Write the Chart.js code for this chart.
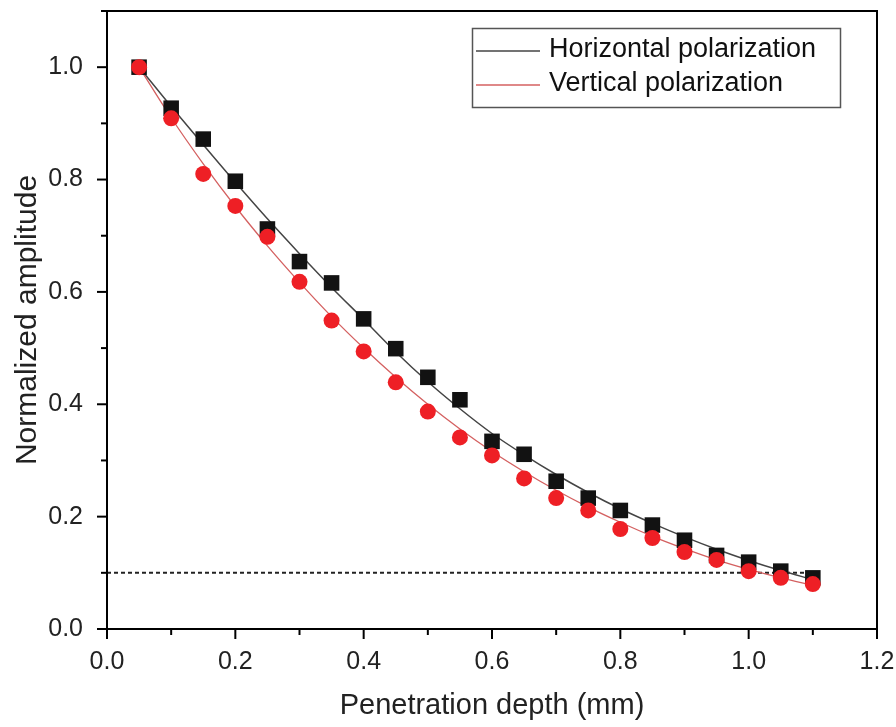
<!DOCTYPE html>
<html>
<head>
<meta charset="utf-8">
<script src="https://cdn.jsdelivr.net/npm/chart.js@4.4.1/dist/chart.umd.min.js"></script>
<style>
  html, body { margin: 0; padding: 0; background: #ffffff; }
  #wrap { width: 896px; height: 727px; }
</style>
</head>
<body>
<div id="wrap"><canvas id="c" width="896" height="727"></canvas></div>
<script>
// ---- data ----
const depth = [0.05,0.10,0.15,0.20,0.25,0.30,0.35,0.40,0.45,0.50,0.55,0.60,0.65,0.70,0.75,0.80,0.85,0.90,0.95,1.00,1.05,1.10];
const horizontalMeasured = [1.000,0.927,0.872,0.797,0.712,0.654,0.616,0.552,0.499,0.448,0.408,0.334,0.311,0.263,0.233,0.211,0.185,0.158,0.131,0.119,0.103,0.091];
const verticalMeasured   = [1.000,0.909,0.810,0.753,0.698,0.618,0.549,0.494,0.439,0.387,0.341,0.309,0.268,0.233,0.211,0.178,0.162,0.137,0.123,0.103,0.091,0.080];
const horizontalFit = [1.000,0.930,0.862,0.795,0.730,0.668,0.608,0.551,0.493,0.440,0.392,0.348,0.310,0.275,0.243,0.214,0.188,0.164,0.142,0.122,0.104,0.088];
const verticalFit   = [1.000,0.910,0.828,0.752,0.682,0.617,0.556,0.500,0.448,0.400,0.356,0.316,0.280,0.247,0.217,0.190,0.165,0.143,0.123,0.106,0.091,0.078];
const thresholdX = [0.0, 1.1];
const thresholdY = [0.1, 0.1];
const xTickLabels = ['0.0','0.2','0.4','0.6','0.8','1.0','1.2'];
const yTickLabels = ['0.0','0.2','0.4','0.6','0.8','1.0'];
const seriesNames = ['Horizontal polarization', 'Vertical polarization'];

const pts = (xs, ys) => xs.map((x, i) => ({x: x, y: ys[i]}));

const BLACK = '#121212';
const RED = '#ee1f25';
const BLACK_LINE = '#444444';
const RED_LINE = '#d46060';
const FONT = "'Liberation Sans', Arial, sans-serif";

const frameAndTicks = {
  id: 'frameAndTicks',
  afterDatasetsDraw(chart) {
    const ctx = chart.ctx;
    const a = chart.chartArea;
    ctx.save();
    ctx.strokeStyle = '#000';
    ctx.lineWidth = 2;
    ctx.strokeRect(a.left, a.top, a.right - a.left, a.bottom - a.top);
    const xs = chart.scales.x, ys = chart.scales.y;
    ctx.lineWidth = 2;
    xs.ticks.forEach((t) => {
      const px = xs.getPixelForValue(t.value);
      const major = Math.round(t.value * 10) % 2 === 0;
      const len = major ? 10 : 6;
      ctx.beginPath(); ctx.moveTo(px, a.bottom); ctx.lineTo(px, a.bottom + len); ctx.stroke();
    });
    ys.ticks.forEach((t) => {
      const py = ys.getPixelForValue(t.value);
      const major = Math.round(t.value * 10) % 2 === 0;
      const len = major ? 10 : 6;
      ctx.beginPath(); ctx.moveTo(a.left, py); ctx.lineTo(a.left - len, py); ctx.stroke();
    });
    ctx.restore();
  }
};

const boxLegend = {
  id: 'boxLegend',
  afterDraw(chart) {
    const ctx = chart.ctx;
    ctx.save();
    ctx.fillStyle = '#fff';
    ctx.fillRect(472, 28, 368, 79);
    ctx.strokeStyle = '#555';
    ctx.lineWidth = 1.5;
    ctx.strokeRect(472.5, 28.5, 368, 79);
    const rows = [{y: 51, c: BLACK_LINE, t: seriesNames[0]}, {y: 85, c: RED_LINE, t: seriesNames[1]}];
    rows.forEach(r => {
      ctx.strokeStyle = r.c; ctx.lineWidth = 1.3;
      ctx.beginPath(); ctx.moveTo(476, r.y); ctx.lineTo(540, r.y); ctx.stroke();
      ctx.fillStyle = '#111';
      ctx.font = "27px " + FONT;
      ctx.textBaseline = 'middle';
      ctx.textAlign = 'left';
      ctx.fillText(r.t, 549, r.y - 1);
    });
    ctx.restore();
  }
};

new Chart(document.getElementById('c'), {
  type: 'scatter',
  data: {
    datasets: [
      { label: seriesNames[1] + ' data', data: pts(depth, verticalMeasured), showLine: false,
        pointStyle: 'circle', pointRadius: 8, pointHoverRadius: 8, backgroundColor: RED, borderColor: RED, borderWidth: 0, order: 0 },
      { label: seriesNames[0] + ' data', data: pts(depth, horizontalMeasured), showLine: false,
        pointStyle: 'rect', pointRadius: 11, pointHoverRadius: 11, backgroundColor: BLACK, borderColor: BLACK, borderWidth: 0, order: 1 },
      { label: seriesNames[1], data: pts(depth, verticalFit), showLine: true, pointRadius: 0,
        borderColor: RED_LINE, borderWidth: 1.3, tension: 0.4, cubicInterpolationMode: 'monotone', order: 2 },
      { label: seriesNames[0], data: pts(depth, horizontalFit), showLine: true, pointRadius: 0,
        borderColor: BLACK_LINE, borderWidth: 1.5, tension: 0.4, cubicInterpolationMode: 'monotone', order: 3 },
      { label: 'threshold', data: pts(thresholdX, thresholdY), showLine: true, pointRadius: 0,
        borderColor: '#222', borderWidth: 2, borderDash: [4, 3], order: 4 }
    ]
  },
  options: {
    responsive: false,
    animation: false,
    layout: { padding: { left: 0, right: 19, top: 9, bottom: 0 } },
    plugins: { legend: { display: false }, tooltip: { enabled: false } },
    scales: {
      x: {
        type: 'linear', min: 0, max: 1.2,
        grid: { display: false, drawTicks: false },
        border: { display: false },
        afterFit(s) { s.height = 98; s.paddingLeft = 0; s.paddingRight = 0; },
        ticks: {
          stepSize: 0.1, padding: 18, color: '#222',
          font: { family: FONT, size: 25 },
          maxRotation: 0, autoSkip: false,
          callback(v) { const k = Math.round(v * 10); return k % 2 === 0 ? xTickLabels[k / 2] : ''; }
        },
        title: { display: true, text: 'Penetration depth (mm)', color: '#222',
          font: { family: FONT, size: 29 }, padding: { top: 0, bottom: 4 } }
      },
      y: {
        type: 'linear', min: 0, max: 1.1,
        grid: { display: false, drawTicks: false },
        border: { display: false },
        afterFit(s) { s.width = 107; s.paddingTop = 0; s.paddingBottom = 0; },
        ticks: {
          stepSize: 0.1, padding: 24, color: '#222',
          font: { family: FONT, size: 25 }, autoSkip: false,
          callback(v) { const k = Math.round(v * 10); return (k % 2 === 0 && k <= 10) ? yTickLabels[k / 2] : ''; }
        },
        title: { display: true, text: 'Normalized amplitude', color: '#222',
          font: { family: FONT, size: 30 }, padding: { top: 10, bottom: 0 } }
      }
    }
  },
  plugins: [frameAndTicks, boxLegend]
});
</script>
</body>
</html>
